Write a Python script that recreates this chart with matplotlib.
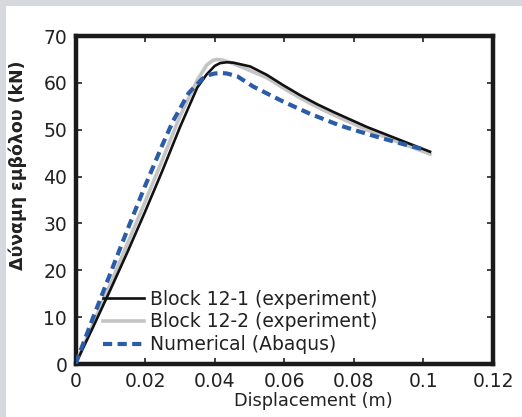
import matplotlib
matplotlib.use("Agg")
import matplotlib.pyplot as plt
from matplotlib.patches import Rectangle

# Displacement (m) and piston force (kN) for each series
disp_b1 = [0, 0.005, 0.010, 0.015, 0.020, 0.025, 0.030, 0.035, 0.0377, 0.040,
           0.0415, 0.0435, 0.0454, 0.0502, 0.0550, 0.0597, 0.0645, 0.0693, 0.0741,
           0.0789, 0.0837, 0.0885, 0.0933, 0.1019]
force_b1 = [0, 7.8, 15.8, 24.0, 32.5, 41.3, 50.5, 59.0, 61.8, 63.6,
            64.2, 64.4, 64.3, 63.5, 61.7, 59.5, 57.4, 55.5, 53.8,
            52.2, 50.6, 49.2, 47.8, 45.3]

disp_b2 = [0, 0.005, 0.010, 0.015, 0.020, 0.025, 0.030, 0.035, 0.0377, 0.0395,
           0.0406, 0.042, 0.044, 0.0480, 0.0550, 0.0597, 0.0645, 0.0693, 0.0741,
           0.0789, 0.0837, 0.0885, 0.0933, 0.1019]
force_b2 = [0, 8.5, 17.0, 25.8, 34.6, 43.6, 52.8, 60.6, 63.8, 64.8,
            65.0, 64.9, 64.5, 63.3, 61.1, 58.9, 56.8, 54.9, 53.2,
            51.6, 50.0, 48.6, 47.2, 44.8]

disp_num = [0, 0.005, 0.010, 0.015, 0.020, 0.025, 0.028, 0.0325, 0.0365, 0.0385,
            0.040, 0.042, 0.0435, 0.0465, 0.0511, 0.0597, 0.0674, 0.076, 0.0847,
            0.0933, 0.0990, 0.100]
force_num = [0, 9.8, 19.3, 28.8, 38.0, 46.8, 51.8, 57.8, 60.9, 61.7,
             62.0, 62.1, 62.0, 61.4, 59.2, 56.0, 53.4, 50.9, 48.9,
             47.1, 46.0, 45.8]

labels = ["Block 12-1 (experiment)", "Block 12-2 (experiment)", "Numerical (Abaqus)"]
x_ticks = [0, 0.02, 0.04, 0.06, 0.08, 0.1, 0.12]
x_tick_labels = ["0", "0.02", "0.04", "0.06", "0.08", "0.1", "0.12"]
y_ticks = [0, 10, 20, 30, 40, 50, 60, 70]

plt.rcParams["font.family"] = ["DejaVu Sans"]

fig = plt.figure(figsize=(5.22, 4.17), dpi=100, facecolor="white")
# thin grey margin along the top and left edges of the page
fig.patches.append(Rectangle((0, 1 - 6 / 417), 1, 6 / 417, transform=fig.transFigure,
                             facecolor="#d8d9de", edgecolor="none", zorder=-10))
fig.patches.append(Rectangle((0, 0), 6 / 522, 1, transform=fig.transFigure,
                             facecolor="#d8d9de", edgecolor="none", zorder=-10))

ax = fig.add_axes([75.5 / 522, 53 / 417, (493 - 75.5) / 522, (364 - 36) / 417])
ax.set_facecolor("white")

ax.plot(disp_b1, force_b1, color="#111111", lw=1.9, label=labels[0], zorder=4)
ax.plot(disp_b2, force_b2, color="#c4c4c4", lw=2.6, label=labels[1], zorder=3)
ax.plot(disp_num, force_num, color="#2b5ca8", lw=3.0, ls=(0, (2.2, 1.3)),
        label=labels[2], zorder=5)

ax.set_xlim(0, 0.12)
ax.set_ylim(0, 70)
ax.set_xticks(x_ticks)
ax.set_xticklabels(x_tick_labels)
ax.set_yticks(y_ticks)
ax.tick_params(direction="in", length=4, width=1.2, color="#222222",
               top=True, right=True, labelsize=13.5, pad=6, labelcolor="#222222")
for s in ax.spines.values():
    s.set_linewidth(3.2)
    s.set_color("#1a1a1a")

ax.set_xlabel("Displacement (m)", fontsize=12.8, color="#222222", labelpad=1)
ax.xaxis.set_label_coords(0.569, -0.085)
ax.xaxis.label.set_verticalalignment("top")
ax.set_ylabel("Δύναμη εμβόλου (kN)", fontsize=12.5, fontweight="bold",
              color="#222222")
ax.yaxis.set_label_coords(-0.115, 0.607)

leg = ax.legend(loc="lower left", bbox_to_anchor=(0.065, 0.03), frameon=False,
                fontsize=13.5, handlelength=2.2, handletextpad=0.3,
                labelspacing=0.2, borderpad=0, borderaxespad=0)
for t in leg.get_texts():
    t.set_color("#222222")

fig.savefig("out.png", dpi=100, facecolor=fig.get_facecolor())
